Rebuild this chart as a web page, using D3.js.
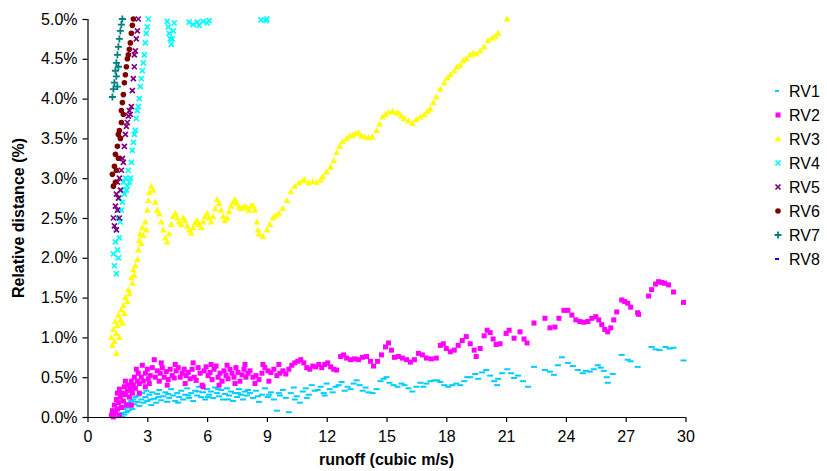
<!DOCTYPE html>
<html><head><meta charset="utf-8">
<script src="https://cdn.jsdelivr.net/npm/d3@7"></script>
<style>body{margin:0;background:#fff;} svg{display:block;font-family:"Liberation Sans",Arial,sans-serif;}</style>
</head><body>
<svg id="c" width="827" height="471"></svg>
<script>
const seriesNames = ["RV1","RV2","RV3","RV4","RV5","RV6","RV7","RV8"];
const xTicks = [0,3,6,9,12,15,18,21,24,27,30];
const yTicks = [0,0.5,1,1.5,2,2.5,3,3.5,4,4.5,5];

const rv1 = [[1.5,0.0],[1.6,0.02],[1.7,0.05],[1.75,0.0],[1.8,0.1],[1.85,0.03],[1.9,0.12],[1.95,0.06],[2.0,0.15],[2.05,0.08],[2.1,0.18],[2.15,0.12],[2.2,0.2],[2.25,0.1],[2.3,0.22],[2.35,0.16],[2.4,0.25],[2.5,0.19],[2.55,0.27],[2.6,0.14],[2.7,0.22],[2.75,0.3],[2.8,0.18],[2.9,0.25],[2.95,0.33],[3.0,0.2],[3.1,0.28],[3.2,0.15],[3.25,0.31],[3.35,0.23],[3.45,0.18],[3.5,0.29],[3.6,0.34],[3.7,0.21],[3.8,0.26],[3.9,0.31],[4.0,0.19],[4.1,0.24],[4.2,0.35],[4.3,0.27],[4.4,0.2],[4.5,0.3],[4.6,0.25],[4.7,0.33],[4.8,0.22],[4.9,0.28],[5.0,0.36],[5.1,0.24],[5.2,0.3],[5.3,0.2],[5.4,0.33],[5.5,0.27],[5.6,0.38],[5.7,0.25],[5.8,0.31],[5.9,0.22],[6.0,0.35],[6.1,0.28],[6.2,0.32],[6.3,0.24],[6.4,0.37],[6.5,0.3],[6.6,0.26],[6.7,0.34],[6.8,0.22],[6.9,0.29],[7.0,0.36],[7.1,0.27],[7.2,0.32],[7.3,0.2],[7.4,0.3],[7.5,0.25],[7.6,0.35],[7.7,0.28],[7.8,0.22],[7.9,0.32],[8.0,0.27],[8.15,0.3],[8.3,0.24],[8.45,0.33],[8.6,0.19],[8.75,0.28],[8.9,0.36],[9.05,0.25],[9.2,0.31],[9.35,0.22],[9.5,0.08],[9.65,0.27],[9.8,0.34],[9.95,0.24],[10.1,0.06],[10.2,0.3],[10.35,0.37],[10.5,0.26],[10.65,0.18],[10.8,0.32],[10.95,0.36],[11.1,0.28],[11.25,0.4],[11.4,0.33],[11.55,0.34],[11.7,0.38],[11.85,0.3],[12.0,0.42],[12.15,0.35],[12.3,0.31],[12.45,0.38],[12.6,0.4],[12.75,0.44],[12.9,0.33],[13.05,0.38],[13.2,0.35],[13.35,0.42],[13.5,0.46],[13.65,0.4],[13.8,0.33],[13.95,0.37],[14.1,0.31],[14.3,0.3],[14.5,0.35],[14.7,0.45],[14.85,0.48],[15.0,0.5],[15.15,0.43],[15.35,0.4],[15.55,0.38],[15.75,0.42],[15.9,0.4],[16.1,0.36],[16.3,0.32],[16.5,0.38],[16.7,0.43],[16.85,0.38],[17.0,0.42],[17.2,0.45],[17.4,0.46],[17.55,0.46],[17.7,0.44],[17.9,0.4],[18.1,0.38],[18.3,0.4],[18.5,0.42],[18.7,0.4],[18.9,0.45],[19.05,0.5],[19.2,0.5],[19.45,0.54],[19.6,0.48],[19.8,0.56],[20.0,0.59],[20.2,0.52],[20.4,0.45],[20.55,0.4],[20.6,0.48],[20.8,0.55],[21.06,0.6],[21.25,0.55],[21.4,0.49],[21.6,0.52],[21.85,0.45],[22.1,0.38],[22.4,0.63],[22.95,0.59],[23.2,0.57],[23.4,0.53],[23.6,0.65],[23.8,0.75],[24.1,0.68],[24.35,0.64],[24.6,0.59],[24.85,0.55],[25.0,0.58],[25.2,0.57],[25.4,0.6],[25.6,0.65],[25.75,0.62],[25.9,0.58],[26.05,0.5],[26.1,0.43],[26.35,0.54],[26.8,0.78],[27.1,0.72],[27.25,0.7],[27.6,0.63],[28.3,0.88],[28.5,0.85],[28.7,0.84],[29.0,0.88],[29.2,0.86],[29.4,0.87],[29.9,0.71],
  [3.15,0.22],[3.55,0.25],[4.05,0.29],[4.55,0.18],[5.05,0.27],[5.55,0.32],[6.05,0.25],[6.55,0.35],[7.05,0.22],[7.55,0.3],[8.05,0.34],[8.55,0.26],[9.1,0.28],[9.6,0.3],[10.4,0.22],[11.0,0.24],[11.9,0.27]];

const rv2 = [[1.2,0.02],[1.25,0.08],[1.3,0.0],[1.35,0.15],[1.4,0.05],[1.45,0.22],[1.5,0.1],[1.5,0.3],[1.55,0.18],[1.6,0.02],[1.6,0.35],[1.65,0.25],[1.7,0.12],[1.75,0.3],[1.8,0.2],[1.85,0.38],[1.9,0.28],[1.95,0.15],[2.0,0.33],[2.05,0.4],[2.1,0.25],[2.15,0.35],[2.2,0.45],[2.25,0.3],[2.3,0.4],[2.35,0.5],[2.4,0.36],[2.5,0.45],[2.55,0.55],[2.6,0.42],[2.7,0.5],[2.75,0.65],[2.8,0.45],[2.9,0.55],[3.0,0.6],[3.05,0.48],[3.15,0.52],[3.25,0.62],[3.35,0.72],[3.4,0.5],[3.5,0.58],[3.6,0.45],[3.65,0.55],[3.75,0.62],[3.85,0.5],[3.95,0.57],[4.05,0.47],[4.15,0.6],[4.25,0.52],[4.35,0.49],[4.45,0.58],[4.55,0.62],[4.65,0.5],[4.75,0.55],[4.85,0.6],[4.95,0.52],[5.05,0.56],[5.15,0.48],[5.25,0.6],[5.35,0.5],[5.45,0.46],[5.55,0.62],[5.65,0.55],[5.75,0.4],[5.85,0.58],[5.95,0.63],[6.05,0.52],[6.15,0.56],[6.25,0.47],[6.35,0.6],[6.45,0.64],[6.55,0.5],[6.65,0.55],[6.75,0.45],[6.85,0.58],[6.95,0.52],[7.05,0.48],[7.15,0.6],[7.25,0.55],[7.35,0.5],[7.45,0.62],[7.55,0.56],[7.65,0.45],[7.75,0.53],[7.85,0.6],[7.95,0.5],[8.05,0.55],[8.15,0.58],[8.3,0.5],[8.45,0.52],[8.6,0.47],[8.75,0.55],[8.9,0.62],[9.05,0.58],[9.2,0.56],[9.35,0.6],[9.5,0.52],[9.65,0.55],[9.8,0.58],[9.95,0.54],[10.1,0.6],[10.25,0.65],[10.4,0.68],[10.55,0.7],[10.7,0.72],[10.85,0.68],[11.0,0.62],[11.15,0.6],[11.3,0.64],[11.45,0.63],[11.6,0.66],[11.75,0.62],[11.9,0.66],[12.05,0.68],[12.2,0.63],[12.35,0.6],[12.5,0.59],[12.7,0.76],[12.85,0.78],[13.0,0.74],[13.2,0.72],[13.4,0.73],[13.6,0.72],[13.8,0.75],[14.0,0.76],[14.2,0.7],[14.35,0.64],[14.55,0.7],[14.75,0.78],[14.95,0.88],[15.1,0.93],[15.25,0.84],[15.4,0.75],[15.6,0.76],[15.8,0.74],[16.0,0.72],[16.2,0.69],[16.4,0.72],[16.6,0.8],[16.8,0.78],[17.0,0.74],[17.25,0.73],[17.5,0.74],[17.7,0.9],[17.85,0.92],[18.0,0.86],[18.2,0.82],[18.4,0.84],[18.6,0.9],[18.8,0.96],[19.0,1.01],[19.2,0.92],[19.4,0.84],[19.5,0.76],[19.7,0.86],[19.9,1.02],[20.05,1.09],[20.2,1.06],[20.35,0.98],[20.5,0.91],[20.7,0.92],[21.0,1.05],[21.15,1.09],[21.4,0.99],[21.7,1.07],[21.9,0.98],[22.05,0.93],[22.4,1.18],[22.95,1.24],[23.2,1.12],[23.45,1.13],[23.65,1.24],[23.9,1.34],[24.1,1.34],[24.3,1.28],[24.5,1.22],[24.7,1.2],[24.9,1.19],[25.1,1.2],[25.3,1.24],[25.5,1.26],[25.65,1.22],[25.8,1.16],[25.95,1.1],[26.1,1.07],[26.25,1.12],[26.4,1.22],[26.55,1.32],[26.8,1.47],[26.95,1.45],[27.1,1.43],[27.25,1.38],[27.6,1.31],[27.65,1.29],[28.15,1.52],[28.3,1.6],[28.5,1.67],[28.65,1.7],[28.8,1.69],[28.95,1.68],[29.15,1.66],[29.4,1.57],[29.9,1.44],
  [1.9,0.45],[2.2,0.15],[2.45,0.6],[2.6,0.3],[2.9,0.38],[3.1,0.42],[3.7,0.68],[4.0,0.4],[4.4,0.66],[4.9,0.42],[5.3,0.68],[5.8,0.38],[6.2,0.66],[6.6,0.4],[7.0,0.65],[7.4,0.42],[7.9,0.66],[8.4,0.42],[8.8,0.66],[9.1,0.45],[9.6,0.66]];

const rv3 = [[1.2,1.0],[1.25,0.9],[1.3,1.1],[1.35,0.95],[1.4,1.2],[1.45,0.8],[1.45,1.05],[1.5,1.15],[1.55,1.28],[1.6,1.0],[1.65,1.22],[1.7,1.35],[1.75,1.18],[1.8,1.4],[1.85,1.3],[1.9,1.5],[2.0,1.45],[2.05,1.6],[2.1,1.55],[2.2,1.75],[2.25,1.68],[2.3,1.85],[2.35,1.78],[2.4,1.9],[2.5,1.98],[2.55,2.1],[2.6,2.22],[2.65,2.3],[2.7,2.18],[2.75,2.38],[2.8,2.28],[2.9,2.45],[2.95,2.35],[3.0,2.6],[3.05,2.72],[3.1,2.82],[3.2,2.9],[3.3,2.85],[3.4,2.7],[3.5,2.6],[3.6,2.55],[3.7,2.45],[3.8,2.35],[3.9,2.25],[4.0,2.2],[4.1,2.3],[4.2,2.42],[4.3,2.52],[4.4,2.56],[4.5,2.5],[4.6,2.45],[4.7,2.42],[4.8,2.5],[4.9,2.47],[5.0,2.4],[5.1,2.35],[5.2,2.31],[5.3,2.38],[5.4,2.44],[5.5,2.47],[5.6,2.42],[5.7,2.38],[5.8,2.45],[5.9,2.52],[6.0,2.56],[6.1,2.5],[6.2,2.45],[6.3,2.52],[6.4,2.62],[6.5,2.73],[6.6,2.68],[6.7,2.6],[6.8,2.52],[6.9,2.47],[7.0,2.5],[7.1,2.58],[7.2,2.65],[7.3,2.7],[7.4,2.73],[7.5,2.68],[7.6,2.64],[7.7,2.62],[7.8,2.63],[7.9,2.64],[8.0,2.63],[8.1,2.6],[8.2,2.65],[8.3,2.66],[8.4,2.6],[8.5,2.45],[8.55,2.35],[8.6,2.3],[8.8,2.27],[9.0,2.35],[9.15,2.42],[9.3,2.5],[9.45,2.53],[9.6,2.56],[9.8,2.62],[10.0,2.72],[10.2,2.83],[10.4,2.9],[10.6,2.94],[10.8,2.97],[10.9,2.98],[11.1,2.94],[11.3,2.96],[11.5,2.95],[11.7,2.98],[11.8,3.02],[12.0,3.08],[12.2,3.14],[12.35,3.22],[12.5,3.32],[12.65,3.4],[12.8,3.46],[13.0,3.5],[13.15,3.53],[13.3,3.54],[13.45,3.56],[13.6,3.57],[13.75,3.53],[13.9,3.52],[14.1,3.51],[14.3,3.52],[14.5,3.6],[14.65,3.68],[14.8,3.77],[14.95,3.8],[15.1,3.83],[15.3,3.84],[15.5,3.82],[15.6,3.82],[15.75,3.78],[15.9,3.75],[16.1,3.72],[16.3,3.69],[16.5,3.74],[16.7,3.77],[16.9,3.8],[17.05,3.84],[17.2,3.87],[17.35,3.95],[17.5,4.02],[17.7,4.12],[17.9,4.2],[18.05,4.26],[18.2,4.3],[18.4,4.35],[18.55,4.4],[18.7,4.42],[18.85,4.48],[19.0,4.5],[19.2,4.55],[19.35,4.57],[19.5,4.56],[19.7,4.6],[19.9,4.65],[20.1,4.73],[20.3,4.76],[20.45,4.78],[20.6,4.82],[21.05,5.0]];

const rv4 = [[1.3,2.05],[1.35,1.9],[1.4,2.2],[1.45,1.8],[1.45,2.35],[1.5,2.1],[1.5,2.5],[1.55,2.0],[1.55,2.6],[1.6,2.25],[1.6,2.75],[1.65,2.45],[1.7,2.6],[1.7,2.85],[1.75,2.7],[1.8,2.95],[1.85,2.8],[1.9,3.0],[1.95,2.85],[2.0,2.9],[2.05,3.1],[2.1,2.95],[2.15,3.0],[2.2,3.2],[2.25,3.35],[2.3,3.45],[2.35,3.55],[2.4,3.6],[2.45,3.75],[2.5,3.85],[2.55,3.9],[2.6,4.0],[2.65,4.15],[2.7,4.25],[2.75,4.35],[2.8,4.45],[2.85,4.55],[2.9,4.7],[2.95,4.82],[3.0,4.9],[3.05,5.0],[4.0,4.97],[4.05,4.9],[4.1,4.82],[4.15,4.75],[4.2,4.68],[4.25,4.75],[4.3,4.85],[4.35,4.95],[5.1,4.96],[5.3,4.93],[5.5,4.96],[5.6,4.92],[5.8,4.97],[6.0,4.95],[6.1,4.98],[8.7,4.99],[8.95,4.98],[9.0,5.0]];

const rv5 = [[1.3,2.5],[1.35,2.4],[1.4,2.65],[1.45,2.35],[1.45,2.8],[1.5,2.6],[1.5,2.95],[1.55,2.75],[1.6,3.0],[1.6,2.5],[1.65,2.85],[1.7,3.1],[1.75,3.25],[1.8,3.2],[1.85,3.4],[1.9,3.55],[1.95,3.65],[2.0,3.7],[2.05,3.78],[2.1,3.85],[2.15,3.8],[2.2,3.9],[2.25,4.1],[2.3,4.25],[2.35,4.4],[2.35,4.55],[2.4,4.6],[2.45,4.75],[2.5,4.85],[2.55,5.0]];

const rv6 = [[1.25,3.05],[1.3,2.9],[1.35,3.15],[1.4,2.95],[1.4,3.3],[1.45,3.1],[1.5,3.4],[1.55,3.55],[1.55,3.25],[1.6,3.6],[1.65,3.5],[1.7,3.7],[1.7,3.85],[1.75,3.95],[1.8,4.05],[1.8,3.8],[1.85,4.2],[1.9,4.3],[1.95,4.4],[2.0,4.5],[2.05,4.55],[2.1,4.62],[2.15,4.7],[2.2,4.82],[2.25,4.92],[2.3,5.0]];

const rv7 = [[1.25,4.02],[1.3,4.12],[1.35,4.2],[1.4,4.35],[1.45,4.28],[1.45,4.45],[1.5,4.55],[1.5,4.15],[1.55,4.65],[1.55,4.4],[1.6,4.75],[1.65,4.85],[1.7,4.93],[1.75,5.0]];

const rv8 = [];

const seriesData = [rv1,rv2,rv3,rv4,rv5,rv6,rv7,rv8];
const colors = ["#00CCFF","#FF00FF","#FFFF00","#00FFFF","#800080","#800000","#008080","#0000FF"];
const shapes = ["dash","square","triangle","x","x","circle","plus","dash"];

const svg = d3.select("#c");
const L = 87.5, R = 685.5, T = 19, B = 417;
const x = d3.scaleLinear().domain([0,30]).range([L,R]);
const y = d3.scaleLinear().domain([0,5]).range([B,T]);

function drawMarker(g, shape, color, small){
  if(shape==="dash"){
    g.append("rect").attr("x",-3).attr("y",-1).attr("width",small?4:6).attr("height",2).attr("fill",color);
  } else if(shape==="square"){
    g.append("rect").attr("x",-2.5).attr("y",-2.5).attr("width",5).attr("height",5).attr("fill",color);
  } else if(shape==="triangle"){
    g.append("path").attr("d","M0,-3.5L3.3,2.6L-3.3,2.6Z").attr("fill",color);
  } else if(shape==="x"){
    g.append("path").attr("d","M-2.5,-2.5L2.5,2.5M-2.5,2.5L2.5,-2.5").attr("stroke",color).attr("stroke-width",1.7);
  } else if(shape==="circle"){
    g.append("circle").attr("r",2.8).attr("fill",color);
  } else if(shape==="plus"){
    g.append("path").attr("d","M-3.5,0L3.5,0M0,-3.5L0,3.5").attr("stroke",color).attr("stroke-width",1.8);
  }
}

const plot = svg.append("g");
seriesData.forEach((data,i)=>{
  const gs = plot.append("g").attr("class","series-"+seriesNames[i]);
  data.filter(d=>d[1]>=0 && d[1]<=5 && d[0]>=0 && d[0]<=30).forEach(d=>{
    const m = gs.append("g").attr("transform",`translate(${x(d[0])},${y(d[1])})`);
    drawMarker(m, shapes[i], colors[i], i===7);
  });
});

// axes
const xAxis = d3.axisBottom(x).tickValues(xTicks).tickSize(5).tickPadding(9).tickFormat(d3.format("d"));
const yAxis = d3.axisLeft(y).tickValues(yTicks).tickSize(5).tickPadding(5).tickFormat(d=>d.toFixed(1)+"%");
const gx = svg.append("g").attr("transform",`translate(0,${B})`).call(xAxis);
const gy = svg.append("g").attr("transform",`translate(${L},0)`).call(yAxis);
[gx,gy].forEach(g=>{
  g.select(".domain").attr("stroke","#000").attr("stroke-width",1.2);
  g.selectAll(".tick line").attr("stroke","#000").attr("stroke-width",1.2);
  g.selectAll("text").attr("font-size",16).attr("fill","#000").attr("font-family","'Liberation Sans',Arial,sans-serif");
});
gx.select(".domain").attr("d",`M${L},0.5H${R}`);
gy.select(".domain").attr("d",`M0.5,${B}V${T}`);

svg.append("text").attr("x",(L+R)/2).attr("y",465).attr("text-anchor","middle")
  .attr("font-size",16).attr("font-weight","bold").text("runoff (cubic m/s)");
svg.append("text").attr("transform",`translate(24,${(T+B)/2}) rotate(-90)`).attr("text-anchor","middle")
  .attr("font-size",16).attr("font-weight","bold").text("Relative distance (%)");

// legend
const leg = svg.append("g");
seriesNames.forEach((n,i)=>{
  const yy = 91 + i*24;
  const m = leg.append("g").attr("transform",`translate(778,${yy})`);
  drawMarker(m, shapes[i], colors[i], i===7 || i===0);
  leg.append("text").attr("x",789).attr("y",yy+6).attr("font-size",16).attr("fill","#000").text(n);
});
</script>
</body></html>
